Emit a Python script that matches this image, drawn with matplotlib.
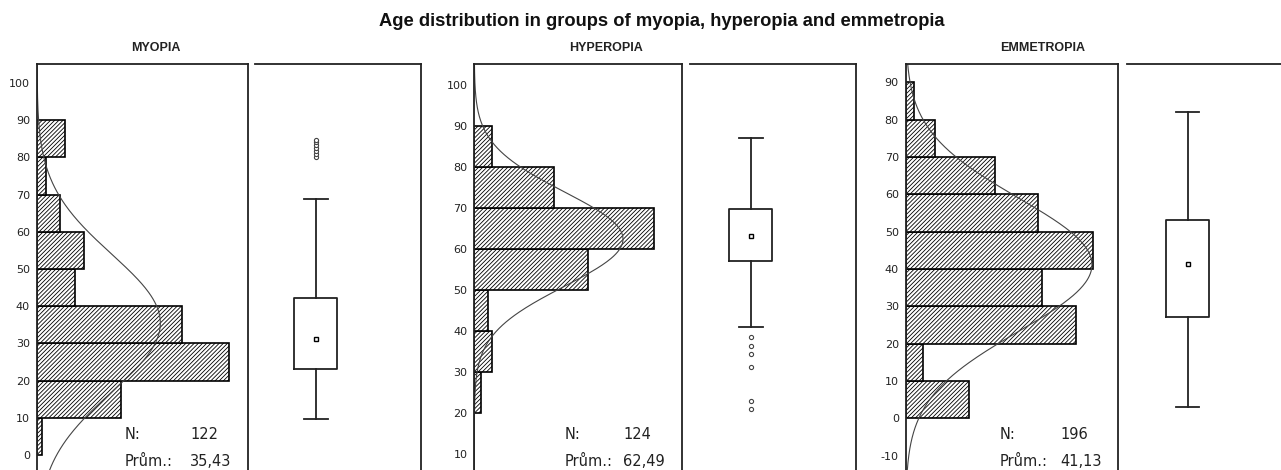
import numpy as np
import matplotlib
matplotlib.use("Agg")
import matplotlib.pyplot as plt

# ---- data -------------------------------------------------------------
groups = ["MYOPIA", "HYPEROPIA", "EMMETROPIA"]

bin_edges_myopia = [0, 10, 20, 30, 40, 50, 60, 70, 80]
counts_myopia = [1, 18, 41, 31, 8, 10, 5, 2, 6]

bin_edges_hyperopia = [20, 30, 40, 50, 60, 70, 80]
counts_hyperopia = [2, 5, 4, 33, 52, 23, 5]

bin_edges_emmetropia = [0, 10, 20, 30, 40, 50, 60, 70, 80]
counts_emmetropia = [15, 4, 40, 32, 44, 31, 21, 7, 2]

n_values = [122, 124, 196]
mean_values = [35.43, 62.49, 41.13]
sd_values = [18.5, 11.5, 17.85]
mean_labels = ["35,43", "62,49", "41,13"]

# box-whisker summaries: lower whisker, Q1, median, Q3, upper whisker
box_myopia = [9.7, 23.1, 31.2, 42.1, 68.8]
box_hyperopia = [41.1, 57.1, 63.3, 69.8, 87.1]
box_emmetropia = [3.1, 27.1, 41.3, 53.1, 82.1]

outliers_myopia = [80.0, 80.8, 81.6, 82.4, 83.2, 84.0, 84.7]
outliers_hyperopia = [38.7, 36.5, 34.4, 31.4, 22.9, 21.0]
outliers_emmetropia = []

yticks_myopia = list(range(0, 101, 10))
yticks_hyperopia = list(range(10, 101, 10))
yticks_emmetropia = list(range(-10, 91, 10))

bin_width = 10

# ---- layout (pixels) ---------------------------------------------------
W, H = 1281, 470
fig = plt.figure(figsize=(W / 100, H / 100), dpi=100)
fig.patch.set_facecolor("white")


def px_axes(x, y_top, w, y_bot):
    return fig.add_axes([x / W, 1 - y_bot / H, w / W, (y_bot - y_top) / H])


TOP, BOT = 64, 500
hist_left = [37, 474.3, 905.7]
hist_width = [211, 207.4, 212.6]
box_left = [255, 690, 1126.7]
box_width = 166
ylims = [(-12.12, 105.08), (-1.14, 105.2), (-21.89, 94.9)]
xmax_counts = [45, 60, 50]
subtitle_x = [156, 606, 1043]
text_x = [(125, 190), (565, 623), (1000, 1060)]

hists = [
    (bin_edges_myopia, counts_myopia),
    (bin_edges_hyperopia, counts_hyperopia),
    (bin_edges_emmetropia, counts_emmetropia),
]
boxes = [box_myopia, box_hyperopia, box_emmetropia]
outliers = [outliers_myopia, outliers_hyperopia, outliers_emmetropia]
yticks = [yticks_myopia, yticks_hyperopia, yticks_emmetropia]

narrow = ["Liberation Sans Narrow", "Liberation Sans", "DejaVu Sans"]
spine_color = "#222222"

plt.rcParams["hatch.linewidth"] = 0.6
plt.rcParams["hatch.color"] = "#111111"

for i in range(3):
    edges, counts = hists[i]
    ax = px_axes(hist_left[i], TOP, hist_width[i], BOT)
    ax.set_ylim(*ylims[i])
    ax.set_xlim(0, xmax_counts[i])
    ax.barh(edges, counts, height=bin_width, align="edge",
            facecolor="white", edgecolor="black", linewidth=1.2,
            hatch="////////")

    # fitted normal curve, scaled to counts per bin
    yy = np.linspace(ylims[i][0], ylims[i][1], 400)
    dens = (n_values[i] * bin_width / (sd_values[i] * np.sqrt(2 * np.pi))
            * np.exp(-0.5 * ((yy - mean_values[i]) / sd_values[i]) ** 2))
    ax.plot(dens, yy, color="#444444", linewidth=0.8)

    ax.set_yticks(yticks[i])
    ax.set_yticklabels([str(t) for t in yticks[i]])
    ax.tick_params(axis="y", length=0, pad=5, labelsize=8, colors="#222222")
    ax.set_xticks([])
    for s in ("left", "top", "right"):
        ax.spines[s].set_color(spine_color)
        ax.spines[s].set_linewidth(1.3)
    ax.spines["bottom"].set_visible(False)

    # N and mean annotation
    tx_label, tx_val = text_x[i]
    to_ax = lambda px: (px - hist_left[i]) / hist_width[i]
    y1 = 1 - (435 - TOP) / (BOT - TOP)
    y2 = 1 - (461 - TOP) / (BOT - TOP)
    for yv, lab, val in ((y1, "N:", str(n_values[i])),
                         (y2, "Prům.:", mean_labels[i])):
        ax.text(to_ax(tx_label), yv, lab, transform=ax.transAxes,
                ha="left", va="center", fontsize=10.5, color="#222222",
                family="DejaVu Sans")
        ax.text(to_ax(tx_val), yv, val, transform=ax.transAxes,
                ha="left", va="center", fontsize=10.5, color="#222222",
                family="DejaVu Sans")

    # box-whisker panel
    bx = px_axes(box_left[i], TOP, box_width, BOT)
    bx.set_ylim(*ylims[i])
    bx.set_xlim(-0.367, 0.633)
    lo, q1, med, q3, hi = boxes[i]
    stats = [dict(whislo=lo, q1=q1, med=med, q3=q3, whishi=hi,
                  fliers=outliers[i])]
    line = dict(color=spine_color, linewidth=1.3)
    bx.bxp(stats, positions=[0], widths=0.259, capwidths=0.14,
           boxprops=line, whiskerprops=line, capprops=line,
           medianprops=dict(linewidth=0),
           flierprops=dict(marker="o", markersize=3,
                           markerfacecolor="white",
                           markeredgecolor="#444444",
                           markeredgewidth=0.8),
           manage_ticks=False)
    bx.plot([0], [med], marker="s", markersize=3.5,
            markerfacecolor="white", markeredgecolor="black",
            markeredgewidth=1.0)
    bx.set_xticks([])
    bx.set_yticks([])
    bx.spines["left"].set_visible(False)
    bx.spines["bottom"].set_visible(False)
    for s in ("top", "right"):
        bx.spines[s].set_color(spine_color)
        bx.spines[s].set_linewidth(1.3)

    fig.text(subtitle_x[i] / W, 1 - 48 / H, groups[i], ha="center",
             va="center", fontsize=9, fontweight="bold", family=narrow,
             color="#222222")

fig.text(662 / W, 1 - 22 / H,
         "Age distribution in groups of myopia, hyperopia and emmetropia",
         ha="center", va="center", fontsize=13.2, fontweight="bold",
         family=narrow, color="#111111")

fig.savefig("out.png", dpi=100)
